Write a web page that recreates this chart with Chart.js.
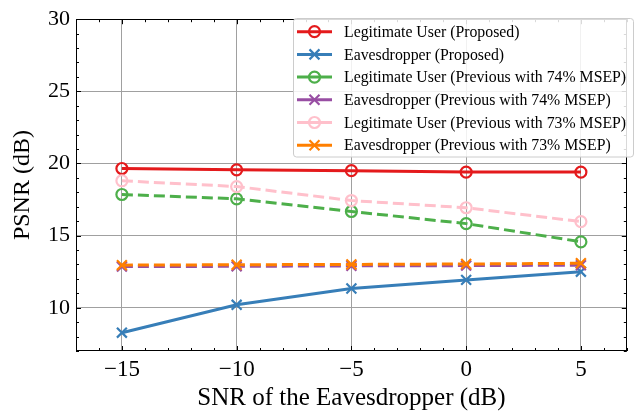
<!DOCTYPE html>
<html><head><meta charset="utf-8">
<script src="https://cdn.jsdelivr.net/npm/chart.js@4"></script>
<style>html,body{margin:0;padding:0;background:#fff}#wrap{width:636px;height:413px}</style>
</head><body><div id="wrap"><canvas id="c" width="636" height="413"></canvas></div>
<script>
const snr = [-15, -10, -5, 0, 5];
const legitProposed = [19.65, 19.56, 19.5, 19.4, 19.4];
const eavesProposed = [8.27, 10.2, 11.33, 11.93, 12.5];
const legit74 = [17.85, 17.55, 16.67, 15.83, 14.57];
const eaves74 = [12.85, 12.87, 12.9, 12.92, 12.95];
const legit73 = [18.8, 18.4, 17.43, 16.93, 15.97];
const eaves73 = [12.95, 12.98, 13.0, 13.03, 13.08];
const seriesNames = [
  'Legitimate User (Proposed)',
  'Eavesdropper (Proposed)',
  'Legitimate User (Previous with 74% MSEP)',
  'Eavesdropper (Previous with 74% MSEP)',
  'Legitimate User (Previous with 73% MSEP)',
  'Eavesdropper (Previous with 73% MSEP)'
];
const xTicks = [-15, -10, -5, 0, 5];
const yTicks = [10, 15, 20, 25, 30];
const xTitle = 'SNR of the Eavesdropper (dB)';
const yTitle = 'PSNR (dB)';

const colors = ['#e41a1c', '#377eb8', '#4daf4a', '#984ea3', '#ffc0cb', '#ff7f00'];
const styles = ['circle', 'crossRot', 'circle', 'crossRot', 'circle', 'crossRot'];
const dashed = [false, false, true, true, true, true];
const values = [legitProposed, eavesProposed, legit74, eaves74, legit73, eaves73];

const FONT = "'Liberation Serif', 'Times New Roman', serif";
Chart.defaults.font.family = FONT;
Chart.defaults.color = '#000';

const datasets = values.map((vals, i) => ({
  label: seriesNames[i],
  data: snr.map((x, j) => ({ x: x, y: vals[j] })),
  borderColor: colors[i],
  backgroundColor: 'rgba(0,0,0,0)',
  borderWidth: 3,
  borderDash: dashed[i] ? [11, 5] : [],
  pointStyle: styles[i],
  pointRadius: styles[i] === 'circle' ? 5.5 : 7,
  pointBorderWidth: 2.2,
  pointBorderColor: colors[i],
  pointBackgroundColor: 'rgba(0,0,0,0)',
  tension: 0,
  order: values.length - i
}));

const framePlugin = {
  id: 'frame',
  afterDraw(chart) {
    const { ctx, chartArea: a, scales } = chart;
    const xs = scales.x, ys = scales.y;
    ctx.save();
    ctx.strokeStyle = '#000';
    ctx.lineWidth = 1;
    const line = (x1, y1, x2, y2) => { ctx.beginPath(); ctx.moveTo(x1, y1); ctx.lineTo(x2, y2); ctx.stroke(); };
    for (let v = -17; v <= 7; v++) {
      const px = Math.round(xs.getPixelForValue(v)) + 0.5;
      const L = (v % 5 === 0) ? 5 : 3;
      line(px, a.bottom, px, a.bottom - L);
      line(px, a.top, px, a.top + L);
    }
    for (let v = 7; v <= 30; v++) {
      const py = Math.round(ys.getPixelForValue(v)) + 0.5;
      const L = (v % 5 === 0) ? 5 : 3;
      line(a.left, py, a.left + L, py);
      line(a.right, py, a.right - L, py);
    }
    ctx.strokeRect(Math.round(a.left) + 0.5, Math.round(a.top) + 0.5, Math.round(a.right - a.left) - 1, Math.round(a.bottom - a.top) - 1);

    // legend
    const bx = 293.5, by = 18.5, bw = 340, bh = 138.5, r = 3;
    ctx.beginPath();
    ctx.moveTo(bx + r, by);
    ctx.lineTo(bx + bw - r, by); ctx.arcTo(bx + bw, by, bx + bw, by + r, r);
    ctx.lineTo(bx + bw, by + bh - r); ctx.arcTo(bx + bw, by + bh, bx + bw - r, by + bh, r);
    ctx.lineTo(bx + r, by + bh); ctx.arcTo(bx, by + bh, bx, by + bh - r, r);
    ctx.lineTo(bx, by + r); ctx.arcTo(bx, by, bx + r, by, r);
    ctx.closePath();
    ctx.fillStyle = 'rgba(255,255,255,0.85)';
    ctx.fill();
    ctx.strokeStyle = '#cccccc';
    ctx.stroke();
    ctx.font = '15.8px ' + FONT;
    ctx.textBaseline = 'middle';
    ctx.textAlign = 'left';
    seriesNames.forEach((name, i) => {
      const y = 31.7 + i * 22.7;
      ctx.strokeStyle = colors[i];
      ctx.lineWidth = 3;
      ctx.setLineDash([]);
      line(297, y, 332, y);
      ctx.lineWidth = 2.2;
      const cx = 314.5;
      if (styles[i] === 'circle') {
        ctx.beginPath(); ctx.arc(cx, y, 5.5, 0, Math.PI * 2); ctx.stroke();
      } else {
        const d = 5;
        line(cx - d, y - d, cx + d, y + d);
        line(cx - d, y + d, cx + d, y - d);
      }
      ctx.fillStyle = '#000';
      ctx.fillText(name, 344, y + 1);
    });
    ctx.restore();
  }
};

new Chart(document.getElementById('c'), {
  type: 'line',
  data: { datasets },
  options: {
    responsive: false,
    devicePixelRatio: 1,
    animation: false,
    layout: { padding: { top: 18, right: 2, left: 0, bottom: 0 } },
    plugins: { legend: { display: false }, tooltip: { enabled: false } },
    scales: {
      x: {
        type: 'linear', min: -17, max: 7,
        afterBuildTicks: s => { s.ticks = xTicks.map(v => ({ value: v })); },
        afterFit: s => { s.height = 62; },
        ticks: { font: { size: 23 }, padding: 5, maxRotation: 0,
          callback: v => (v < 0 ? '\u2212' + Math.abs(v) : String(v)) },
        grid: { color: '#a0a0a0', lineWidth: 1, drawTicks: false },
        border: { display: false },
        title: { display: true, text: xTitle, font: { size: 25 }, padding: { top: 0, bottom: 0 } }
      },
      y: {
        type: 'linear', min: 7, max: 30,
        afterBuildTicks: s => { s.ticks = yTicks.map(v => ({ value: v })); },
        afterFit: s => { s.width = 76; },
        ticks: { font: { size: 22 }, padding: 6 },
        grid: { color: '#a0a0a0', lineWidth: 1, drawTicks: false },
        border: { display: false },
        title: { display: true, text: yTitle, font: { size: 24 }, padding: { top: 8, bottom: 0 } }
      }
    }
  },
  plugins: [framePlugin]
});
</script></body></html>
